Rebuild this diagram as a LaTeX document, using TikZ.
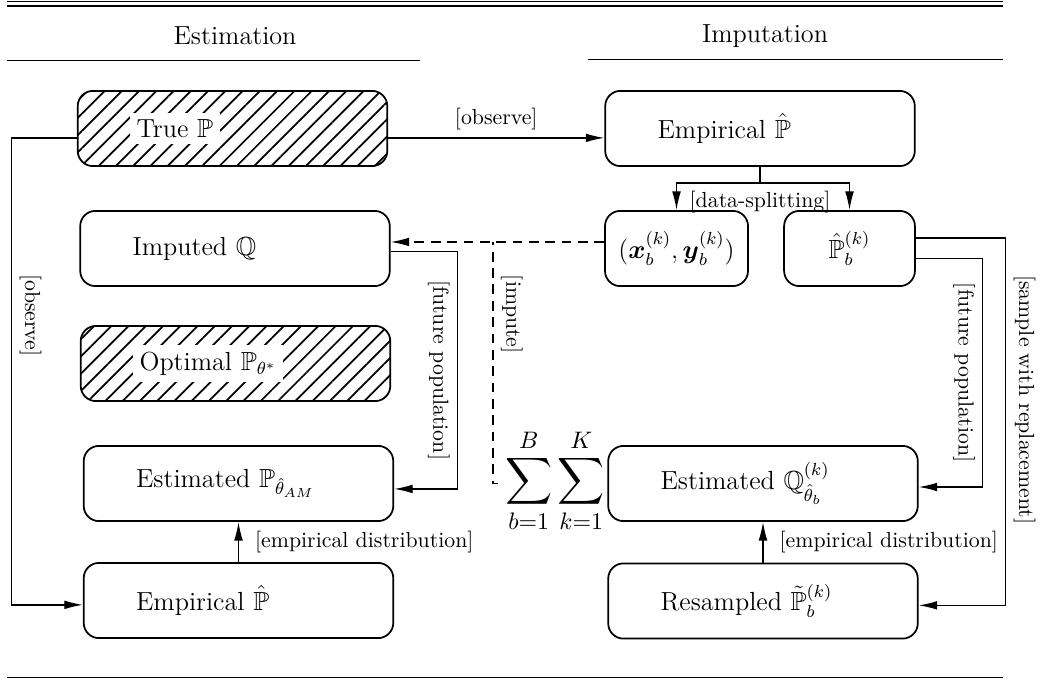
\documentclass[tikz,border=0pt]{standalone}
\usepackage{amsmath,amssymb}
\usetikzlibrary{arrows.meta,patterns.meta}
\tikzset{
  box/.style={draw,thick,rounded corners=7pt,minimum height=34.5pt,
    text width=94pt,inner xsep=24pt,align=left,font=\large},
  hatchbox/.style={box,pattern={Lines[angle=45,distance=5.6pt,line width=0.8pt]}},
  smallbox/.style={draw,thick,rounded corners=7pt,minimum height=34.5pt,font=\large},
  conn/.style={semithick,-{Latex[length=8.5pt,width=4pt]}},
  dashline/.style={semithick,dash pattern=on 4.5pt off 3pt},
}
\begin{document}
\begin{tikzpicture}[x=0.4587pt,y=-0.4587pt]
\useasboundingbox (0,0) rectangle (1046,679);
% rules and titles
\draw[thick] (7,1.5)--(1003,1.5) (7,6)--(1003,6);
\node[font=\large] (esttitle) at (235,36) {Estimation};
\node[font=\large] (imptitle) at (765,36) {Imputation};
\draw[semithick] (7,60.5)--(420,60.5) (588,59.5)--(1003,59.5);
\draw[semithick] (7,677.5)--(1003,677.5);
% estimation side
\node[hatchbox] (true) at (232.5,128.5) {\colorbox{white}{True $\mathbb{P}$}};
\node[box] (imputed) at (235,248.5) {Imputed $\mathbb{Q}$};
\node[hatchbox] (optimal) at (235.5,363.5) {\colorbox{white}{Optimal $\mathbb{P}_{\theta^*}$}};
\node[box] (estimated) at (238.5,483.5) {Estimated $\mathbb{P}_{\hat{\theta}_{AM}}$};
\node[box] (empb) at (238.5,600.5) {Empirical $\hat{\mathbb{P}}$};
% imputation side
\node[box] (emp) at (760,128.5) {Empirical $\hat{\mathbb{P}}$};
\node[smallbox,minimum width=65.6pt] (xy) at (676.5,248.5)
  {$(\boldsymbol{x}_b^{(k)},\boldsymbol{y}_b^{(k)})$};
\node[smallbox,minimum width=60pt] (pb) at (849.5,248.5) {$\hat{\mathbb{P}}_b^{(k)}$};
\node[box] (estq) at (763,483.5) {Estimated $\mathbb{Q}^{(k)}_{\hat{\theta}_b}$};
\node[box] (resampled) at (763,601) {Resampled $\tilde{\mathbb{P}}_b^{(k)}$};
\node[font=\fontsize{15}{18}\selectfont,inner sep=3pt] (sums) at (555,481)
  {$\displaystyle\sum_{b=1}^{B}\sum_{k=1}^{K}$};
% connectors
\draw[conn] ([yshift=-4.3pt]true.east)--node[above]{[observe]}([yshift=-4.3pt]emp.west);
\draw[conn] ([yshift=-4.3pt]true.west)--++(-65,0)
  |-node[pos=0.19,rotate=-90,above]{[observe]}([yshift=-2pt]empb.west);
\draw[semithick] (emp.south)--++(0,16) coordinate (split);
\draw[conn] (split)-|(xy.north);
\draw[conn] (split)-|(pb.north);
\node[below] (splitlbl) at (split) {[data-splitting]};
\draw[conn,dashline] ([yshift=3pt]xy.west)--coordinate[pos=0.52] (fork)([yshift=3pt]imputed.east);
\draw[dashline,dash phase=3pt] (fork)|-node[pos=0.15,rotate=-90,above]{[impute]}([yshift=-1pt]sums.west);
\draw[conn] ([yshift=-1.5pt]imputed.east)--++(67,0)
  |-node[pos=0.25,rotate=-90,below]{[future population]}([yshift=-2.5pt]estimated.east);
\draw[conn] (empb)--node[right,xshift=4pt]{[empirical distribution]}(estimated);
\draw[conn] ([yshift=4.8pt]pb.east)--++(90,0)
  |-node[pos=0.22,rotate=-90,above]{[sample with replacement]}([yshift=-2pt]resampled.east);
\draw[conn] ([yshift=-4.5pt]pb.east)--++(67,0)
  |-node[pos=0.25,rotate=-90,below]{[future population]}([yshift=-1.6pt]estq.east);
\draw[conn] (resampled)--node[right,xshift=4pt]{[empirical distribution]}(estq);
\end{tikzpicture}
\end{document}
